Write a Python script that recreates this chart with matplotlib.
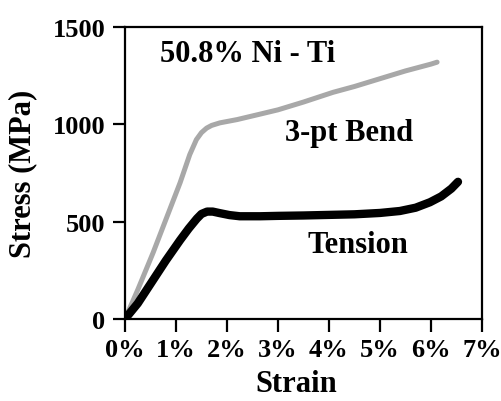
import matplotlib
matplotlib.use("Agg")
import matplotlib.pyplot as plt

bend_strain = [0.0, 0.25, 0.55, 0.8, 1.08, 1.27, 1.4, 1.5, 1.6, 1.7, 1.86, 2.2, 2.65,
               3.0, 3.5, 4.08, 4.5, 5.0, 5.5, 6.0, 6.12]
bend_stress = [0, 150, 340, 510, 700, 845, 922, 958, 981, 995, 1008, 1025, 1053,
               1075, 1115, 1165, 1195, 1235, 1275, 1310, 1320]
tens_strain = [0.0, 0.25, 0.55, 0.8, 1.08, 1.25, 1.41, 1.5, 1.61, 1.72, 1.86, 2.05, 2.25,
               2.65, 3.0, 3.5, 4.0, 4.5, 5.0, 5.39, 5.7, 5.98, 6.2, 6.4, 6.53]
tens_stress = [0, 80, 200, 300, 405, 465, 516, 540, 552, 552, 544, 534, 528,
               528, 530, 532, 535, 538, 545, 555, 572, 600, 630, 670, 705]
xticks = [0, 1, 2, 3, 4, 5, 6, 7]
yticks = [0, 500, 1000, 1500]

plt.rcParams['font.family'] = ['Liberation Serif', 'DejaVu Serif']
plt.rcParams['font.weight'] = 'bold'

fig = plt.figure(figsize=(5.01, 4.02), dpi=100)
ax = fig.add_axes([0.2495, 0.204, 0.7125, 0.726])
ax.plot(bend_strain, bend_stress, color='#a8a8a8', lw=3.6, solid_capstyle='round',
        solid_joinstyle='round')
ax.plot(tens_strain, tens_stress, color='black', lw=6, solid_capstyle='round',
        solid_joinstyle='round')
ax.set_xlim(0, 7)
ax.set_ylim(0, 1500)
ax.set_xticks(xticks)
ax.set_xticklabels([f"{v}%" for v in xticks])
ax.set_yticks(yticks)
for s in ax.spines.values():
    s.set_linewidth(1.6)
ax.tick_params(direction='out', length=9, width=1.6, labelsize=19, pad=5)
ax.set_xlabel('Strain', fontsize=22, fontweight='bold')
ax.set_ylabel('Stress (MPa)', fontsize=22, fontweight='bold')
ax.xaxis.set_label_coords(0.48, -0.173)
ax.yaxis.set_label_coords(-0.245, 0.5)
ax.text(0.098, 0.884, '50.8% Ni - Ti', transform=ax.transAxes, fontsize=22, fontweight='bold', va='baseline')
ax.text(0.448, 0.613, '3-pt Bend', transform=ax.transAxes, fontsize=22, fontweight='bold', va='baseline')
ax.text(0.51, 0.229, 'Tension', transform=ax.transAxes, fontsize=22, fontweight='bold', va='baseline')
fig.savefig('out.png', dpi=100)
